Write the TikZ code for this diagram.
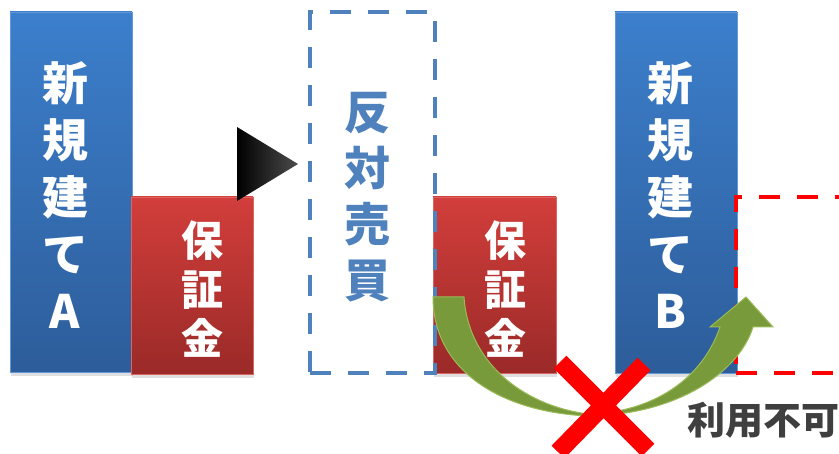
\documentclass[tikz,border=0pt]{standalone}
\usepackage{fontspec}
\newfontfamily\jpfont{Noto Sans CJK JP}[BoldFont={Noto Sans CJK JP Black}]
\usetikzlibrary{shadows}
\definecolor{boxtop}{HTML}{3C7FCC}
\definecolor{boxbot}{HTML}{2D5D9A}
\definecolor{mgntop}{HTML}{D23E3B}
\definecolor{mgnbot}{HTML}{9A2A28}
\definecolor{dashblue}{HTML}{4F81BD}
\definecolor{arrowgreen}{HTML}{789A3A}
\definecolor{arrowrim}{HTML}{9BBB59}
\definecolor{notegray}{HTML}{3F3F3F}

\begin{document}
\begin{tikzpicture}[x=1pt,y=1pt,
  every node/.style={inner sep=0pt},
  posbox/.style={rectangle,minimum width=122,minimum height=360,
    top color=boxtop,bottom color=boxbot,draw=boxtop!80!white,line width=0.8,
    drop shadow={opacity=0.25,shadow xshift=1pt,shadow yshift=-4pt}},
  mgnbox/.style={rectangle,minimum width=122,minimum height=177,
    top color=mgntop,bottom color=mgnbot,draw=mgntop!80!white,line width=0.8,
    drop shadow={opacity=0.25,shadow xshift=1pt,shadow yshift=-4pt}},
  postxt/.style={align=center,text=white,font=\jpfont\bfseries\fontsize{46}{57}\selectfont},
  mgntxt/.style={align=center,text=white,font=\jpfont\bfseries\fontsize{42}{49}\selectfont},
  dashbox/.style={rectangle,draw=#1,line width=4,dash pattern=on 21 off 17},
]
\useasboundingbox (0,0) rectangle (839,-454);

\node[posbox] (posA) at (71,-192) {};
\node[postxt] (posAtxt) at (65,-195) {新\\規\\建\\て\\A};

\node[mgnbox] (mgnA) at (192,-285.5) {};
\node[mgntxt] (mgnAtxt) at (202,-289) {保\\証\\金};

\shade[left color=black,right color=black!70!white] (237,-127) -- (298,-164) -- (237,-201) -- cycle;

\node[mgnbox,minimum width=123,minimum height=176] (mgnB) at (494.5,-285) {};
\node[mgntxt] (mgnBtxt) at (505,-289) {保\\証\\金};

\node[dashbox=dashblue,minimum width=125,minimum height=361] (close) at (372.5,-192.5) {};
\node[align=center,text=dashblue,font=\jpfont\bfseries\fontsize{46}{56}\selectfont] (closetxt) at (367,-197) {反\\対\\売\\買};

\node[posbox,minimum height=361] (posB) at (676,-192.5) {};
\node[postxt] (posBtxt) at (670,-195) {新\\規\\建\\て\\B};

\node[dashbox=red,minimum width=200,minimum height=176] (spare) at (836,-285) {};

\fill[arrowgreen,draw=arrowrim,line width=1]
  (433,-297) -- (464,-297)
  .. controls (468,-360) and (520,-405) .. (588,-414)
  .. controls (645,-413) and (700,-385) .. (720,-327)
  -- (710,-327) -- (746,-297) -- (773,-327) -- (753,-327)
  .. controls (740,-370) and (680,-415) .. (588,-416)
  .. controls (500,-412) and (433,-370) .. (433,-297) -- cycle;

\draw[red,line width=18] (560,-362) -- (648,-450) (644,-364) -- (558,-452);

\node[text=notegray,font=\jpfont\bfseries\fontsize{38}{40}\selectfont] (note) at (763,-420) {利用不可};
\end{tikzpicture}
\end{document}
